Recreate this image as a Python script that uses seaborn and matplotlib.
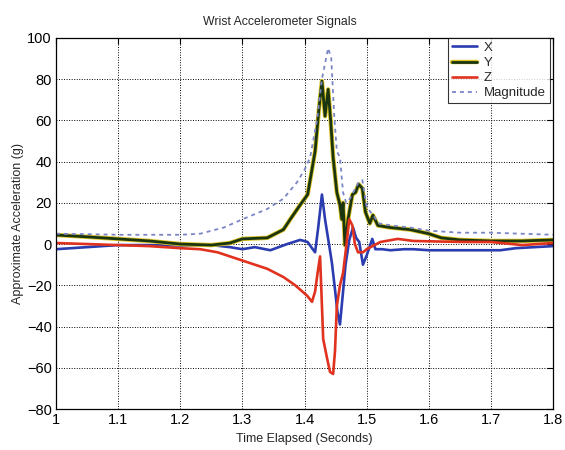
import matplotlib
matplotlib.use("Agg")
import matplotlib.pyplot as plt
import matplotlib.patheffects as pe
import seaborn as sns

# Wrist accelerometer axes (g) over elapsed time (s)
t_x = [1.00, 1.05, 1.10, 1.15, 1.20, 1.25, 1.28, 1.30, 1.32, 1.345, 1.372, 1.393,
       1.405, 1.412, 1.417, 1.422, 1.428, 1.433, 1.438, 1.444, 1.449, 1.453, 1.457,
       1.462, 1.466, 1.472, 1.478, 1.483, 1.488, 1.494, 1.500, 1.509, 1.514, 1.525,
       1.538, 1.56, 1.575, 1.60, 1.63, 1.655, 1.68, 1.715, 1.74, 1.77, 1.80]
acc_x = [-2.5, -1.5, -0.5, -0.5, -0.7, -0.5, -1.5, -2.5, -1.5, -3, 0, 2,
         1, -2, -4, 8, 24, 12, 2.5, -9, -22, -33, -39,
         -23, -10, 2, 8, 3, 1, -10, -5.5, 2.5, -2.5, -2.5,
         -3, -2.5, -2.5, -3, -3, -3, -3, -3, -2, -1.5, -1]

t_y = [1.00, 1.05, 1.10, 1.15, 1.20, 1.25, 1.28, 1.30, 1.34, 1.366, 1.377, 1.393,
       1.405, 1.417, 1.423, 1.428, 1.433, 1.438, 1.442, 1.446, 1.452, 1.457, 1.460,
       1.462, 1.465, 1.470, 1.477, 1.482, 1.487, 1.493, 1.498, 1.505, 1.51, 1.518,
       1.538, 1.57, 1.60, 1.62, 1.65, 1.70, 1.75, 1.80]
acc_y = [4.4, 3.5, 2.5, 1.5, 0, -0.5, 0.5, 2.5, 3, 7, 12, 19,
         24, 45, 65, 79, 62, 75, 60, 42, 25, 19, 12,
         20, -0.5, 12, 24, 25, 29, 27, 15.5, 10, 14, 9,
         8, 7, 5, 3, 2, 1.5, 1.5, 2]

t_z = [1.00, 1.05, 1.10, 1.15, 1.20, 1.232, 1.26, 1.30, 1.34, 1.366, 1.385, 1.404,
       1.412, 1.417, 1.421, 1.425, 1.430, 1.436, 1.441, 1.446, 1.449, 1.452, 1.457,
       1.462, 1.466, 1.472, 1.477, 1.481, 1.486, 1.494, 1.50, 1.522, 1.55, 1.575,
       1.62, 1.66, 1.70, 1.75, 1.80]
acc_z = [0.5, 0, -0.5, -1, -2, -2.5, -4, -8, -12, -16, -20, -25,
         -28, -23, -14, -6, -46, -55, -62, -63, -52, -30, -20,
         -14, -4, 12, 9, 0, -4, -4, -2.5, 1, 2.5, 1.5,
         1.2, 1, 1, -0.5, 0.5]

t_m = [1.00, 1.05, 1.10, 1.15, 1.20, 1.232, 1.27, 1.30, 1.34, 1.366, 1.388, 1.40,
       1.409, 1.42, 1.428, 1.438, 1.443, 1.448, 1.452, 1.457, 1.462, 1.467, 1.473,
       1.480, 1.487, 1.493, 1.50, 1.51, 1.52, 1.54, 1.57, 1.60, 1.65, 1.70, 1.75, 1.80]
acc_mag = [5, 4.8, 4.5, 4.5, 4.5, 5, 8, 12, 17, 22, 30, 36,
           42, 60, 80, 95, 90, 61, 45, 42, 25, 20, 22,
           26, 30, 31, 18, 14, 10, 9, 8, 6.5, 5.5, 5.5, 5, 4.5]

x_ticks = [1, 1.1, 1.2, 1.3, 1.4, 1.5, 1.6, 1.7, 1.8]
y_ticks = [-80, -60, -40, -20, 0, 20, 40, 60, 80, 100]

sns.set_style("white")
plt.rcParams["font.family"] = ["Liberation Sans", "DejaVu Sans"]

fig = plt.figure(figsize=(5.65, 4.5), dpi=100)
ax = fig.add_axes([0.099, 0.091, 0.880, 0.825])

common = dict(ax=ax, estimator=None, sort=False)
sns.lineplot(x=t_x, y=acc_x, color="#2a3cb0", linewidth=1.9, label="X", **common)
sns.lineplot(x=t_y, y=acc_y, color="#1a3510", linewidth=2.0, label="Y",
             path_effects=[pe.Stroke(linewidth=3.2, foreground="#dcc424"), pe.Normal()],
             **common)
sns.lineplot(x=t_z, y=acc_z, color="#e0321e", linewidth=1.9, label="Z", **common)
sns.lineplot(x=t_m, y=acc_mag, color="#7a86c4", linewidth=1.3, label="Magnitude",
             linestyle=(0, (2.2, 2.2)), **common)

ax.set_xlim(1, 1.8)
ax.set_ylim(-80, 100)
ax.set_xticks(x_ticks)
ax.set_xticklabels([f"{v:g}" for v in x_ticks])
ax.set_yticks(y_ticks)
ax.grid(True, color="black", linestyle=(0, (1, 1.6)), linewidth=0.7)
ax.tick_params(direction="in", top=True, right=True, length=4, width=0.8,
               labelsize=10.5, colors="black", pad=3)
for s in ax.spines.values():
    s.set_color("black")
    s.set_linewidth(0.9)

ax.set_title("Wrist Accelerometer Signals", fontsize=8.8, pad=9, x=0.45)
ax.set_xlabel("Time Elapsed (Seconds)", fontsize=9, labelpad=4)
ax.set_ylabel("Approximate Acceleration (g)", fontsize=9, labelpad=2)

leg = ax.legend(loc="upper right", fontsize=9.5, frameon=True, fancybox=False,
                edgecolor="black", borderaxespad=0.0, handlelength=1.9,
                handletextpad=0.5, labelspacing=0.22, borderpad=0.3,
                bbox_to_anchor=(0.993, 1.0))
leg.get_frame().set_linewidth(0.8)

fig.savefig("out.png", dpi=100, facecolor="white")
